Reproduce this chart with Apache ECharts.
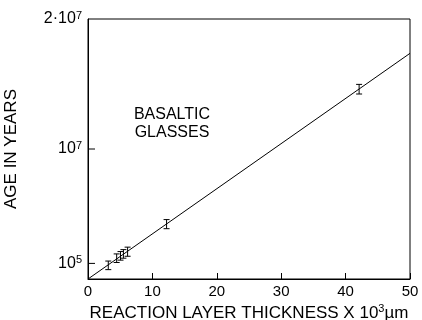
<!DOCTYPE html>
<html><head><meta charset="utf-8">
<script src="https://cdn.jsdelivr.net/npm/echarts@6/dist/echarts.min.js"></script>
<style>html,body{margin:0;padding:0;background:#fff}#c{width:422px;height:320px}</style>
</head><body><div id="c"></div>
<script>
// Data
var thickness = [3.15, 4.45, 5.05, 5.5, 6.15, 12.2, 42.1];
var age = [1.05e6, 1.6e6, 1.78e6, 1.93e6, 2.1e6, 4.22e6, 14.6e6];
var ageErr = [0.33e6, 0.33e6, 0.33e6, 0.33e6, 0.35e6, 0.35e6, 0.37e6];
var fitX = [0, 50];
var fitY = [0, 17.36e6];
var xTicks = [0, 10, 20, 30, 40, 50];
var yTickValues = [1.2e6, 1e7, 2e7];
var yTickLabels = ['{b|10}{s|5}', '{b|10}{s|7}', '{b|2·10}{s|7}'];
var yTickMarks = [1.2e6, 1e7];

var font = 'Liberation Sans, Arial, sans-serif';
var chart = echarts.init(document.getElementById('c'), null, {renderer: 'canvas'});
var errData = thickness.map(function (x, i) { return [x, age[i] - ageErr[i], age[i] + ageErr[i]]; });
var fitData = fitX.map(function (x, i) { return [x, fitY[i]]; });
var tickData = yTickMarks.map(function (v) { return [0, v]; });

chart.setOption({
  animation: false,
  grid: {left: 88, top: 19, right: 12, bottom: 41, show: true, borderColor: '#000', borderWidth: 1,
         containLabel: false, outerBoundsMode: 'none'},
  xAxis: {
    type: 'value', min: 0, max: 50, interval: 10,
    axisLine: {lineStyle: {color: '#000', width: 1}},
    axisTick: {inside: true, length: 6, lineStyle: {color: '#000'}},
    axisLabel: {color: '#000', fontSize: 15, fontFamily: font, margin: 5},
    splitLine: {show: false},
    name: '{t|REACTION LAYER THICKNESS X 10}{s|3}{t|µm}',
    nameLocation: 'middle', nameGap: 23,
    nameTextStyle: {rich: {
      t: {fontSize: 17, fontFamily: font, color: '#000'},
      s: {fontSize: 11, fontFamily: font, color: '#000', verticalAlign: 'top', padding: [0,0,7,0]}
    }}
  },
  yAxis: {
    type: 'value', min: 0, max: 2e7,
    axisLine: {show: true, lineStyle: {color: '#000', width: 1}},
    axisTick: {show: false},
    axisLabel: {
      customValues: yTickValues, margin: 6,
      formatter: function (v) { var i = yTickValues.indexOf(v); return i >= 0 ? yTickLabels[i] : ''; },
      rich: {
        b: {fontSize: 16, fontFamily: font, color: '#000'},
        s: {fontSize: 11, fontFamily: font, color: '#000', verticalAlign: 'top', padding: [0,0,6,0]}
      }
    },
    splitLine: {show: false},
    name: 'AGE IN YEARS', nameLocation: 'middle', nameGap: 68,
    nameTextStyle: {fontSize: 17, fontFamily: font, color: '#000'}
  },
  graphic: [{
    type: 'text', x: 172, y: 106,
    style: {text: 'BASALTIC\nGLASSES', fill: '#000', font: '16px ' + font, textAlign: 'center', textVerticalAlign: 'top', lineHeight: 18}
  }],
  series: [{
    type: 'line', data: fitData, showSymbol: false, symbol: 'none',
    lineStyle: {color: '#000', width: 1}
  }, {
    type: 'custom', data: errData,
    renderItem: function (params, api) {
      var x = api.value(0);
      var lo = api.coord([x, api.value(1)]);
      var hi = api.coord([x, api.value(2)]);
      var w = 3;
      return {type: 'group', children: [
        {type: 'line', shape: {x1: lo[0], y1: lo[1], x2: hi[0], y2: hi[1]}, style: {stroke: '#000', lineWidth: 1}},
        {type: 'line', shape: {x1: lo[0]-w, y1: lo[1], x2: lo[0]+w, y2: lo[1]}, style: {stroke: '#000', lineWidth: 1}},
        {type: 'line', shape: {x1: hi[0]-w, y1: hi[1], x2: hi[0]+w, y2: hi[1]}, style: {stroke: '#000', lineWidth: 1}}
      ]};
    }
  }, {
    type: 'custom', data: tickData, silent: true,
    renderItem: function (params, api) {
      var p = api.coord([api.value(0), api.value(1)]);
      return {type: 'line', shape: {x1: p[0], y1: p[1], x2: p[0] + 7, y2: p[1]}, style: {stroke: '#000', lineWidth: 1}};
    }
  }]
});
</script></body></html>
